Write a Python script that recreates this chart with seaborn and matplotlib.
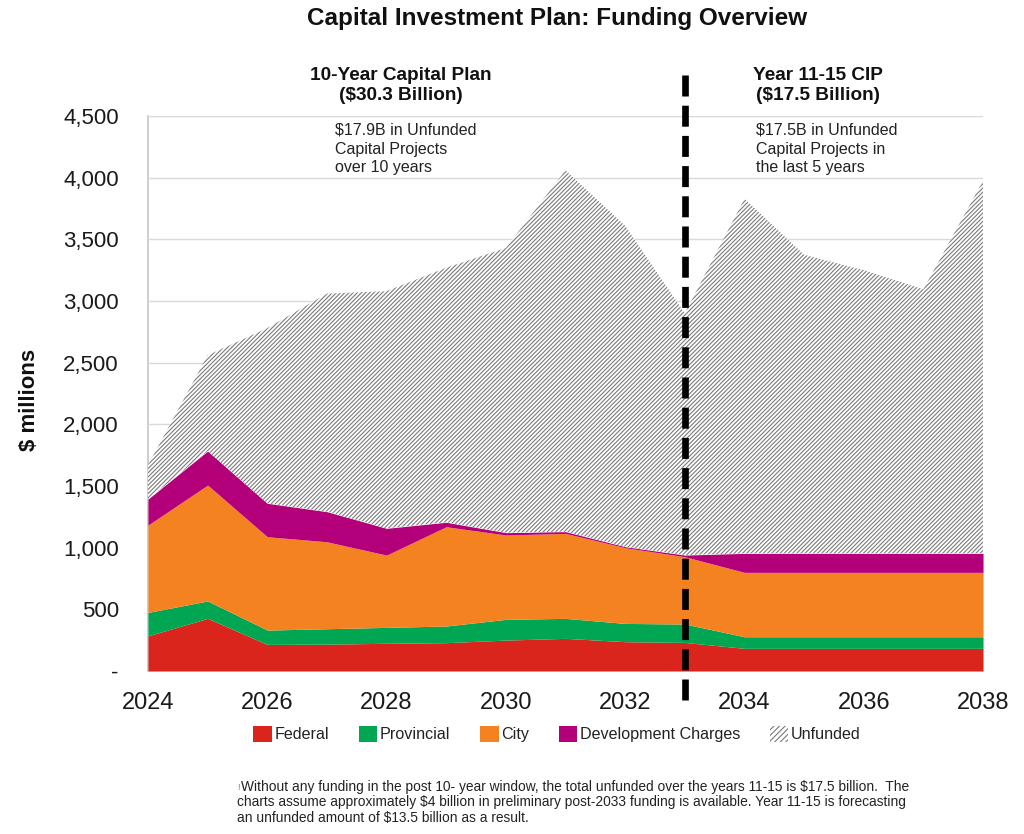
import numpy as np
import pandas as pd
import matplotlib
matplotlib.use("Agg")
import matplotlib.pyplot as plt
import seaborn as sns
from matplotlib.patches import Patch
from matplotlib.ticker import FuncFormatter

# values, $ millions per year
years = list(range(2024, 2039))
federal = [285, 427, 216, 218, 225, 230, 251, 265, 238, 232, 184, 184, 184, 184, 184]
provincial = [190, 141, 116, 125, 129, 135, 168, 162, 148, 149, 94, 94, 94, 94, 94]
city = [708, 940, 757, 705, 586, 805, 684, 689, 614, 546, 522, 522, 522, 522, 522]
dev_charges = [211, 276, 271, 244, 217, 36, 19, 14, 8, 13, 154, 154, 154, 154, 154]
unfunded = [275, 776, 1420, 1768, 1923, 2064, 2308, 2930, 2602, 1960, 2876, 2421, 2296, 2141, 3021]

labels = ["Federal", "Provincial", "City", "Development Charges", "Unfunded"]
colors = ["#DA251D", "#00A651", "#F58220", "#B3007A", "#FFFFFF"]
hatch_color = "#7a7a7a"
hatch = "////////"
x_ticks = list(range(2024, 2039, 2))
y_ticks = list(range(0, 4501, 500))

df = pd.DataFrame({"Federal": federal, "Provincial": provincial, "City": city,
                   "Development Charges": dev_charges, "Unfunded": unfunded}, index=years)

sns.set_theme(style="white")
plt.rcParams["font.family"] = ["Liberation Sans", "DejaVu Sans"]
plt.rcParams["hatch.color"] = hatch_color
plt.rcParams["hatch.linewidth"] = 0.8

fig = plt.figure(figsize=(10.24, 8.34), dpi=100)
ax = fig.add_axes([0.1445, 0.1954, 0.8155, 0.6655])

# stacked funded layers
bottom = np.zeros(len(df))
for name, col in zip(labels[:4], colors[:4]):
    top = bottom + df[name].values
    ax.fill_between(df.index, bottom, top, color=col, linewidth=0, zorder=2)
    bottom = top
# unfunded on top, hatched
ax.fill_between(df.index, bottom, bottom + df["Unfunded"].values, facecolor="white",
                edgecolor=hatch_color, hatch=hatch, linewidth=0, zorder=2)

ax.set_xlim(2024, 2038)
ax.set_ylim(0, 4500)
ax.set_xticks(x_ticks)
ax.set_yticks(y_ticks)
ax.yaxis.set_major_formatter(FuncFormatter(lambda v, p: "-" if v == 0 else f"{v:,.0f}"))
ax.tick_params(axis="y", length=0, pad=21, labelsize=16, colors="#1a1a1a")
ax.tick_params(axis="x", length=0, pad=15, labelsize=17, colors="#1a1a1a")
ax.yaxis.grid(True, color="#d9d9d9", linewidth=1)
ax.set_axisbelow(True)
for s in ["top", "right", "bottom"]:
    ax.spines[s].set_visible(False)
ax.spines["left"].set_color("#c8c8c8")
ax.spines["left"].set_zorder(0.5)

# divider between 10-year plan and years 11-15 (drawn top-down so it starts on a dash)
ax.plot([2033, 2033], [1.074, -0.052], transform=ax.get_xaxis_transform(), clip_on=False,
        color="black", linewidth=4.8, dashes=(3.15, 1.38), solid_capstyle="butt",
        dash_capstyle="butt", zorder=5)

ax.text(2027.14, 4445, "$17.9B in Unfunded\nCapital Projects\nover 10 years",
        ha="left", va="top", fontsize=11.5, color="#222222", linespacing=1.32)
ax.text(2034.19, 4445, "$17.5B in Unfunded\nCapital Projects in\nthe last 5 years",
        ha="left", va="top", fontsize=11.5, color="#222222", linespacing=1.32)

fig.text(0.391, 0.8975, "10-Year Capital Plan\n($30.3 Billion)", ha="center", va="center",
         fontsize=13.7, fontweight="bold", color="#111111", linespacing=1.2)
fig.text(0.799, 0.8975, "Year 11-15 CIP\n($17.5 Billion)", ha="center", va="center",
         fontsize=13.7, fontweight="bold", color="#111111", linespacing=1.2)
fig.text(0.544, 0.978, "Capital Investment Plan: Funding Overview", ha="center", va="center",
         fontsize=17.5, fontweight="bold", color="#111111")
fig.text(0.029, 0.52, "$ millions", ha="center", va="center", rotation=90,
         fontsize=16, fontweight="bold", color="#111111")

handles = [Patch(facecolor=c, edgecolor=c, linewidth=0) for c in colors[:4]]
handles.append(Patch(facecolor="white", edgecolor=hatch_color, hatch="//////", linewidth=0))
fig.legend(handles, labels, loc="center", bbox_to_anchor=(0.544, 0.12), ncol=5, frameon=False,
           fontsize=11.6, handlelength=1.15, handleheight=1.15, handletextpad=0.15,
           columnspacing=1.85, labelcolor="#222222")

# footnote
fig.text(0.2315, 0.056, "!", color="#e06060", fontsize=6.5, ha="left", va="center")
fig.text(0.2353, 0.056, "Without any funding in the post 10- year window, the total unfunded over "
         "the years 11-15 is $17.5 billion.  The", ha="left", va="center", fontsize=9.9, color="#222222")
fig.text(0.2315, 0.0463, "charts assume approximately $4 billion in preliminary post-2033 funding "
         "is available. Year 11-15 is forecasting\nan unfunded amount of $13.5 billion as a result.",
         ha="left", va="top", fontsize=9.9, color="#222222", linespacing=1.12)

fig.savefig("out.png", dpi=100)
